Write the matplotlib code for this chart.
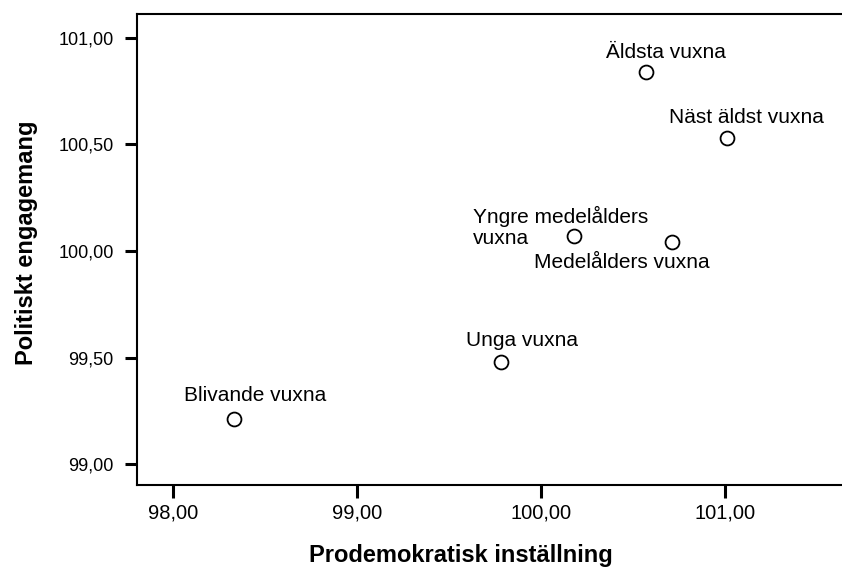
import matplotlib
matplotlib.use("Agg")
import matplotlib.pyplot as plt

# data
groups = ["Blivande vuxna", "Unga vuxna", "Yngre medelålders\nvuxna",
          "Medelålders vuxna", "Äldsta vuxna", "Näst äldst vuxna"]
prodemokratisk = [98.33, 99.78, 100.18, 100.71, 100.57, 101.01]
politiskt = [99.21, 99.48, 100.07, 100.04, 100.84, 100.53]

x_ticks = [98.0, 99.0, 100.0, 101.0]
y_ticks = [99.0, 99.5, 100.0, 100.5, 101.0]

# label offsets in pixels (dx, dy) and alignment per point
label_offsets = [(21, 18, "center"), (21, 16, "center"), (-101, -8, "left"),
                 (-50, -26, "center"), (20, 14, "center"), (20, 15, "center")]

plt.rcParams["font.family"] = ["Liberation Sans", "DejaVu Sans"]

fig = plt.figure(figsize=(8.42, 5.67), dpi=100)
ax = fig.add_axes([0.1623, 0.1446, 0.8377, 0.8307])

ax.scatter(prodemokratisk, politiskt, s=100, facecolors="white",
           edgecolors="black", linewidths=1.3, zorder=3)

for name, x, y, (dx, dy, ha) in zip(groups, prodemokratisk, politiskt, label_offsets):
    ax.annotate(name, (x, y), xytext=(dx, dy), textcoords="offset pixels",
                ha=ha, va="baseline", fontsize=15, linespacing=1.15)

ax.set_xlim(97.801, 101.636)
ax.set_ylim(98.902, 101.111)
ax.set_xticks(x_ticks)
ax.set_yticks(y_ticks)
ax.set_xticklabels([f"{v:.2f}".replace(".", ",") for v in x_ticks], fontsize=14.5)
ax.set_yticklabels([f"{v:.2f}".replace(".", ",") for v in y_ticks], fontsize=13)
ax.tick_params(axis="both", direction="out", length=9, width=2.2, color="black")
ax.tick_params(axis="x", pad=4)
ax.tick_params(axis="y", pad=7.5)

for side in ["left", "bottom", "top"]:
    ax.spines[side].set_linewidth(1.5)
ax.spines["right"].set_visible(False)

ax.set_xlabel("Prodemokratisk inställning", fontsize=17, fontweight="bold")
ax.xaxis.set_label_coords(0.4598, -0.1628)
ax.xaxis.label.set_va("baseline")
ax.set_ylabel("Politiskt engagemang", fontsize=17, fontweight="bold")
ax.yaxis.set_label_coords(-0.1555, 0.5138)
ax.yaxis.label.set_va("center")

fig.savefig("out.png", dpi=100)
